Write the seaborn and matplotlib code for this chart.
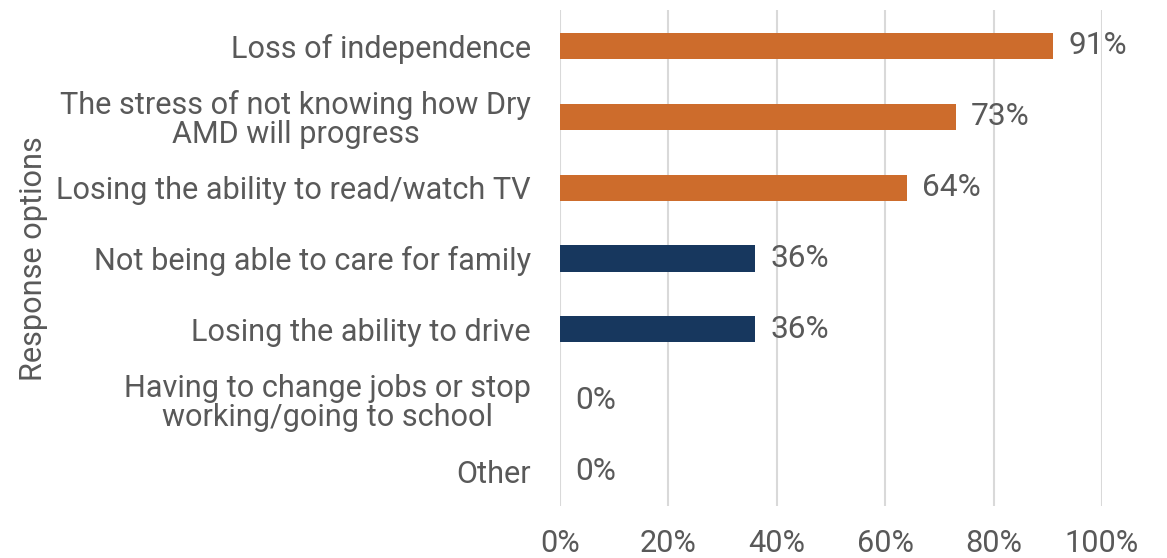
import matplotlib
matplotlib.use("Agg")
import matplotlib.pyplot as plt
import seaborn as sns
import pandas as pd

categories = [
    "Loss of independence",
    "The stress of not knowing how Dry\nAMD will progress",
    "Losing the ability to read/watch TV",
    "Not being able to care for family",
    "Losing the ability to drive",
    "Having to change jobs or stop\nworking/going to school",
    "Other",
]
values = [91, 73, 64, 36, 36, 0, 0]
bar_colors = ["#CD6C2C", "#CD6C2C", "#CD6C2C", "#17375E", "#17375E", "#17375E", "#17375E"]
x_ticks = [0, 20, 40, 60, 80, 100]
x_tick_labels = ["0%", "20%", "40%", "60%", "80%", "100%"]

sns.set_theme(style="white")
plt.rcParams["font.family"] = ["Roboto", "DejaVu Sans"]
text_color = "#595959"
fs = 22.1

df = pd.DataFrame({"option": categories, "pct": values})

fig = plt.figure(figsize=(11.67, 5.58), dpi=100)
ax = fig.add_axes([0.4799, 0.0923, 0.4644, 0.8889])

sns.barplot(data=df, y="option", x="pct", hue="option", palette=bar_colors,
            saturation=1, linewidth=0, legend=False, width=0.37, ax=ax, orient="h")

for cont, v in zip(ax.containers, values):
    ax.bar_label(cont, labels=[f"{v}%"], padding=11, fontsize=22.8, color=text_color)

ax.set_xlim(0, 100)
ax.set_ylim(6.5, -0.5)
ax.set_xticks(x_ticks)
ax.set_xticklabels(x_tick_labels)
ax.xaxis.grid(True, color="#D9D9D9", linewidth=1.5)
ax.set_axisbelow(True)
for s in ax.spines.values():
    s.set_visible(False)
ax.tick_params(axis="x", length=0, pad=16, labelsize=fs, labelcolor=text_color)
ax.tick_params(axis="y", length=0, pad=21, labelsize=fs, labelcolor=text_color)
for lbl in ax.get_yticklabels():
    lbl.set_horizontalalignment("right")
    lbl.set_multialignment("center")
    lbl.set_linespacing(1.0)
ax.set_xlabel("")
ax.set_ylabel("Response options", fontsize=fs, color=text_color)
ax.yaxis.set_label_coords(-0.944, 0.5)

fig.savefig("out.png", dpi=100)
